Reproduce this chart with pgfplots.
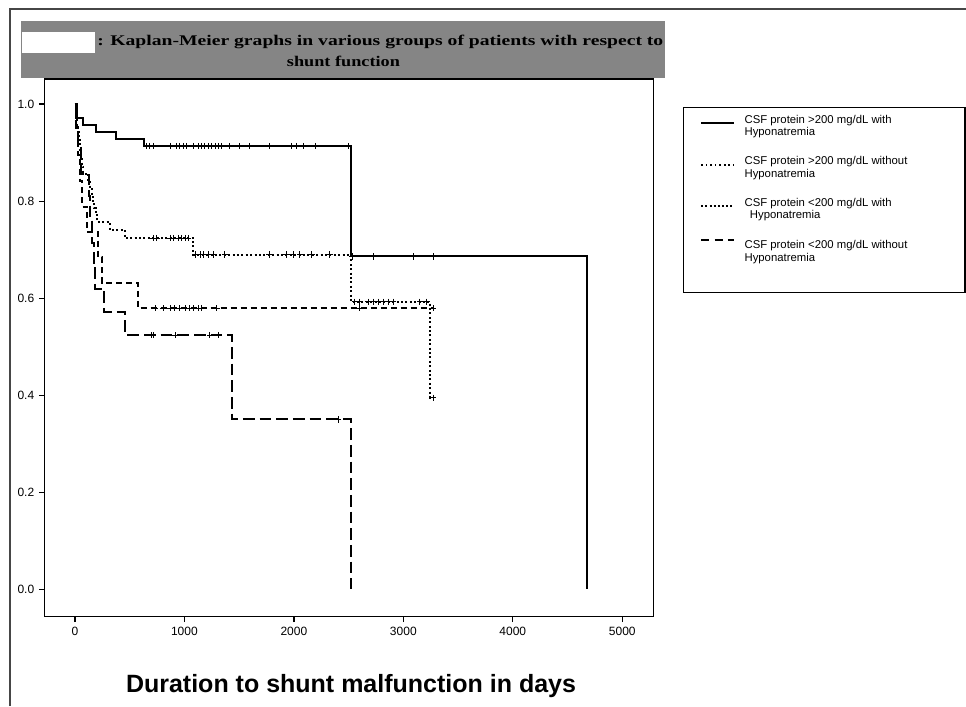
\documentclass[border=0pt]{standalone}
\usepackage{fontspec}
\setmainfont{Liberation Sans}
\newfontfamily\titlefont{Liberation Serif}
\usepackage{pgfplots}
\pgfplotsset{compat=1.18}
\usepackage{graphicx}

\definecolor{titlegray}{RGB}{133,133,133}
\definecolor{framegray}{RGB}{70,70,70}

\pgfplotsset{
  km/.style={const plot, line width=1.5pt, black, no marks, forget plot},
  cens/.style={only marks, mark=+, mark size=2.3pt, black, mark options={solid, line width=0.65pt}, forget plot},
  dotsA/.style={dash pattern=on 1.5pt off 1.8pt},
  dashS/.style={dash pattern=on 4.5pt off 3pt},
  dashL/.style={dash pattern=on 8.75pt off 3.75pt},
}
% two-line legend entry
\newcommand{\entry}[2]{\begin{tabular}[t]{@{}l@{}}#1\\#2\end{tabular}}

\begin{document}
\begin{tikzpicture}
\path[use as bounding box] (0pt,0pt) rectangle (724.5pt,-529.5pt);

% outer frame (only top and left visible)
\draw[framegray, line width=1.1pt] (7.5pt,-529.5pt) -- (7.5pt,-6.75pt) -- (724.5pt,-6.75pt);

% title band
\fill[titlegray] (15.75pt,-15.5pt) rectangle (498.75pt,-58.3pt);
\fill[white] (16.5pt,-23.8pt) rectangle (71.25pt,-40pt);
\node[anchor=base west, inner sep=0pt] at (72.75pt,-34.3pt)
  {\resizebox{424.5pt}{7.8pt}{\titlefont\bfseries : Kaplan-Meier graphs in various groups of patients with respect to}};
\node[anchor=base, inner sep=0pt] at (257.6pt,-50pt)
  {\resizebox{84.75pt}{7.8pt}{\titlefont\bfseries shunt function}};

\begin{axis}[
  at={(33.2pt,-462.5pt)}, anchor=south west,
  scale only axis, width=456.75pt, height=403.3pt,
  xmin=-280, xmax=5283, ymin=-0.0565, ymax=1.052,
  xtick={0,1000,2000,3000,4000,5000},
  ytick={0,0.2,0.4,0.6,0.8,1},
  tick align=outside, tick pos=left, major tick length=4pt,
  axis line style={line width=1pt},
  every tick/.style={line width=1pt, black},
  /pgf/number format/assume math mode=true,
  tick label style={font=\fontsize{9}{10}\selectfont},
  yticklabel style={/pgf/number format/.cd, fixed, fixed zerofill, precision=1},
  xticklabel style={/pgf/number format/.cd, set thousands separator={}},
  legend image code/.code={\draw[#1, line width=1.5pt] (0pt,0pt) -- (24.75pt,0pt);},
  legend style={at={(1.0767,0.9345)}, anchor=north west, draw=none, fill=none,
    inner sep=0pt, row sep=23pt, column sep=7pt,
    font=\fontsize{8.5}{9.4}\selectfont,
    nodes={inner sep=0pt, anchor=base west}, cells={anchor=base west}},
  clip=false,
]

% CSF protein >200 mg/dL with hyponatremia
\addplot[km] coordinates {
  (0,1) (15,0.971) (70,0.957) (192,0.943) (374,0.929) (630,0.914)
  (2521,0.686) (4676,0)
};
\addplot[cens] coordinates {
  (654,0.914) (685,0.914) (721,0.914) (868,0.914) (929,0.914) (959,0.914)
  (989,0.914) (1020,0.914) (1081,0.914) (1126,0.914) (1157,0.914) (1187,0.914)
  (1218,0.914) (1248,0.914) (1279,0.914) (1309,0.914) (1339,0.914) (1409,0.914)
  (1507,0.914) (1592,0.914) (1775,0.914) (1979,0.914) (2024,0.914) (2085,0.914)
  (2195,0.914) (2496,0.914)
  (2536,0.686) (2725,0.686) (3090,0.686) (3272,0.686)
};

% CSF protein >200 mg/dL without hyponatremia
\addplot[km, dotsA] coordinates {
  (0,1) (8,0.986) (15,0.971) (22,0.957) (30,0.943) (38,0.929) (45,0.914)
  (52,0.900) (60,0.886) (68,0.871) (75,0.857) (122,0.843) (140,0.829)
  (155,0.814) (165,0.800) (178,0.786) (190,0.771) (205,0.757) (320,0.741)
  (457,0.724) (1081,0.690) (2521,0.593) (3242,0.395) (3272,0.395)
};
\addplot[cens] coordinates {
  (715,0.724) (746,0.724) (868,0.724) (898,0.724) (944,0.724) (974,0.724)
  (1005,0.724) (1035,0.724)
  (1102,0.690) (1142,0.690) (1178,0.690) (1218,0.690) (1263,0.690) (1370,0.690)
  (1775,0.690) (1933,0.690) (1994,0.690) (2055,0.690) (2162,0.690) (2329,0.690)
  (2557,0.593) (2603,0.593) (2679,0.593) (2725,0.593) (2770,0.593) (2816,0.593)
  (2862,0.593) (2907,0.593) (3151,0.593) (3212,0.593)
  (3272,0.395)
};

% CSF protein <200 mg/dL with hyponatremia
\addplot[km, dashS] coordinates {
  (0,1) (10,0.947) (30,0.895) (50,0.842) (67,0.789) (110,0.737) (215,0.684)
  (250,0.632) (578,0.579) (3272,0.579)
};
\addplot[cens] coordinates {
  (731,0.579) (807,0.579) (868,0.579) (913,0.579) (959,0.579) (1005,0.579)
  (1044,0.579) (1081,0.579) (1126,0.579) (1157,0.579) (1294,0.579) (2603,0.579)
  (3272,0.579)
};

% CSF protein <200 mg/dL without hyponatremia
\addplot[km, dashL] coordinates {
  (0,1) (12,0.952) (30,0.905) (60,0.857) (125,0.810) (140,0.762) (155,0.714)
  (170,0.667) (185,0.619) (270,0.571) (460,0.524) (1437,0.350) (2521,0)
};
\addplot[cens] coordinates {
  (700,0.524) (715,0.524) (919,0.524) (1233,0.524) (1309,0.524)
  (2404,0.350)
};

\addlegendimage{black}
\addlegendentry{\entry{CSF protein >200 mg/dL with}{Hyponatremia}}
\addlegendimage{black, dash pattern=on 1.2pt off 2.2pt}
\addlegendentry{\entry{CSF protein >200 mg/dL without}{Hyponatremia}}
\addlegendimage{black, dash pattern=on 1.5pt off 1.6pt}
\addlegendentry{\entry{CSF protein <200 mg/dL with}{\hspace*{4pt}Hyponatremia}}
\addlegendimage{black, dash pattern=on 6pt off 4pt, yshift=6.6pt}
\addlegendentry{\entry{CSF protein <200 mg/dL without}{Hyponatremia}}
\end{axis}

% legend frame
\draw[black, line width=0.8pt] (512.5pt,-80.8pt) rectangle (723.75pt,-219.2pt);

% x axis caption
\node[inner sep=0pt] at (263.25pt,-514.5pt)
  {\resizebox{337.5pt}{!}{\bfseries Duration to shunt malfunction in days}};
\end{tikzpicture}
\end{document}
